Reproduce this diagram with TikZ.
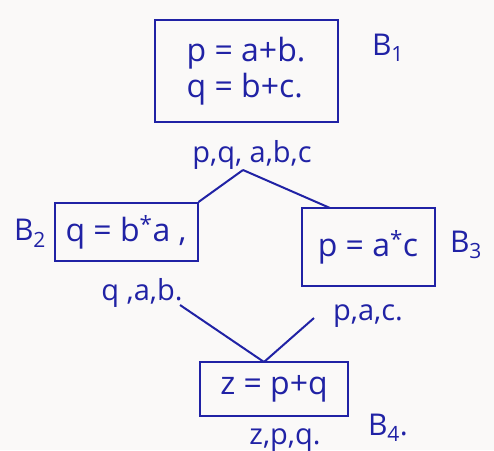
\documentclass[tikz,border=0pt]{standalone}
\usepackage{fontspec}
\setmainfont{Open Sans}
\definecolor{ink}{RGB}{32,34,165}
\definecolor{paper}{RGB}{250,249,248}
\begin{document}
\begin{tikzpicture}[x=1pt,y=-1pt,
  blk/.style={draw=ink,line width=2pt,rectangle,inner sep=0pt,text=ink,font=\fontsize{32}{36}\selectfont},
  lbl/.style={text=ink,inner sep=0pt,font=\fontsize{30}{34}\selectfont},
  var/.style={text=ink,inner sep=0pt,font=\fontsize{29}{32}\selectfont},
  edge/.style={draw=ink,line width=2pt}]
\fill[paper] (0,0) rectangle (494,450);
\useasboundingbox (0,0) rectangle (494,450);
% blocks
\node[blk,minimum width=183pt,minimum height=102pt,align=left] (b1) at (246,71)
  {p = a+b.\\[0pt] q = b+c.};
\node[blk,minimum width=143pt,minimum height=58pt] (b2) at (126,232) {q = b\textsuperscript{*}a ,};
\node[blk,minimum width=133pt,minimum height=78pt] (b3) at (368,247) {p = a\textsuperscript{*}c};
\node[blk,minimum width=148pt,minimum height=54pt] (b4) at (274,389) {z = p+q};
% block labels
\node[lbl] (l1) at (388,48) {B\textsubscript{1}};
\node[lbl] (l2) at (30,233) {B\textsubscript{2}};
\node[lbl] (l3) at (466,245) {B\textsubscript{3}};
\node[lbl] (l4) at (388,428) {B\textsubscript{4}.};
% variable lists
\node[var] (v1) at (252,155) {p,q, a,b,c};
\node[var] (v2) at (142,293) {q ,a,b.};
\node[var] (v3) at (368,316) {p,a,c.};
\node[var] (v4) at (285,440) {z,p,q.};
% connectors
\coordinate (split) at (243,170);
\coordinate (b3in) at (330,208);
\coordinate (qend) at (180,305);
\coordinate (pend) at (314,318);
\coordinate (b4in) at (264,362);
\draw[edge] (split) -- (b2.north east);
\draw[edge] (split) -- (b3in);
\draw[edge] (qend) -- (b4in);
\draw[edge] (pend) -- (b4in);
\end{tikzpicture}
\end{document}
